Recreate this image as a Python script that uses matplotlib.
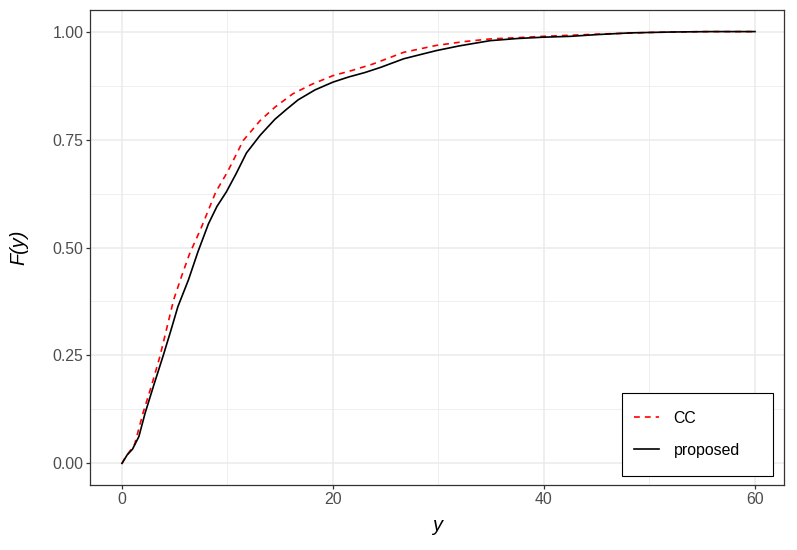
import matplotlib
matplotlib.use('Agg')
import matplotlib.pyplot as plt
from matplotlib.patches import Rectangle
from matplotlib.ticker import FixedLocator, FormatStrFormatter

cc_x = [0, 0.3, 1.2, 2.0, 2.8, 3.6, 4.9, 5.6, 6.4, 7.5, 8.9, 10.0, 11.5, 13.1, 14.5,
        16.2, 18.0, 20.0, 21.8, 23.8, 26.7, 29.8, 32.5, 34.9, 37.5, 39.9, 45.0, 50.0, 55.0, 60.0]
cc_y = [0.0, 0.013, 0.044, 0.117, 0.18, 0.248, 0.379, 0.43, 0.485, 0.545, 0.629, 0.675, 0.748, 0.794, 0.825,
        0.856, 0.878, 0.898, 0.91, 0.925, 0.952, 0.968, 0.977, 0.983, 0.986, 0.989, 0.994, 0.998, 1.0, 1.0]

prop_x = [0, 0.5, 1.0, 1.6, 2.2, 3.0, 3.9, 4.6, 5.3, 6.3, 7.2, 8.2, 9.0, 9.9, 10.8, 11.8, 13.1, 14.5,
          15.6, 16.7, 18.3, 20.0, 21.5, 23.0, 24.5, 26.7, 28.0, 29.8, 32.0, 34.9, 37.5, 39.9, 42.5,
          45.0, 48.2, 52.0, 56.0, 60.0]
prop_y = [0.0, 0.02, 0.033, 0.062, 0.117, 0.18, 0.249, 0.305, 0.363, 0.425, 0.49, 0.555, 0.595, 0.629,
          0.67, 0.719, 0.76, 0.797, 0.82, 0.842, 0.865, 0.883, 0.895, 0.905, 0.917, 0.937, 0.945, 0.956,
          0.967, 0.979, 0.984, 0.987, 0.989, 0.993, 0.997, 0.999, 1.0, 1.0]

x_ticks = [0, 20, 40, 60]
y_ticks = [0.0, 0.25, 0.5, 0.75, 1.0]

plt.rcParams['font.family'] = ['Liberation Sans', 'DejaVu Sans']

fig = plt.figure(figsize=(7.97, 5.5), dpi=100)
ax = fig.add_axes([90 / 797, 1 - 485 / 550, 694 / 797, 475 / 550])

ax.plot(cc_x, cc_y, color='#ff0000', lw=1.2, dashes=(3.5, 3), label='CC', zorder=3)
ax.plot(prop_x, prop_y, color='black', lw=1.2, label='proposed', zorder=3)

ax.set_xlim(-3.03, 62.75)
ax.set_ylim(-0.05, 1.05)
ax.xaxis.set_major_locator(FixedLocator(x_ticks))
ax.yaxis.set_major_locator(FixedLocator(y_ticks))
ax.xaxis.set_minor_locator(FixedLocator([10, 30, 50]))
ax.yaxis.set_minor_locator(FixedLocator([0.125, 0.375, 0.625, 0.875]))
ax.yaxis.set_major_formatter(FormatStrFormatter('%.2f'))

ax.grid(which='major', color='#ebebeb', lw=1.1, zorder=0)
ax.grid(which='minor', color='#ebebeb', lw=0.55, zorder=0)
ax.set_axisbelow(True)

for s in ax.spines.values():
    s.set_color('#333333')
    s.set_linewidth(0.9)

ax.tick_params(which='major', length=2.75, width=0.9, color='#333333',
               labelsize=11.4, labelcolor='#4d4d4d', pad=2)
ax.tick_params(which='minor', length=0)

ax.set_xlabel('y', fontsize=14.3, fontstyle='italic', labelpad=7)
ax.set_ylabel('F(y)', fontsize=14.3, fontstyle='italic', labelpad=17)

# legend box drawn separately so it has ggplot's wider right margin
ax.add_patch(Rectangle((0.7661, 0.0196), 0.2184, 0.1735, transform=ax.transAxes,
                       facecolor='white', edgecolor='black', lw=0.8, zorder=4))
leg = ax.legend(loc='upper left', bbox_to_anchor=(0.7839, 0.1568), borderaxespad=0,
                fontsize=11.4, frameon=False, handlelength=1.6,
                handletextpad=0.9, labelspacing=1.09, borderpad=0)
leg.set_zorder(5)

fig.savefig('out.png', dpi=100)
